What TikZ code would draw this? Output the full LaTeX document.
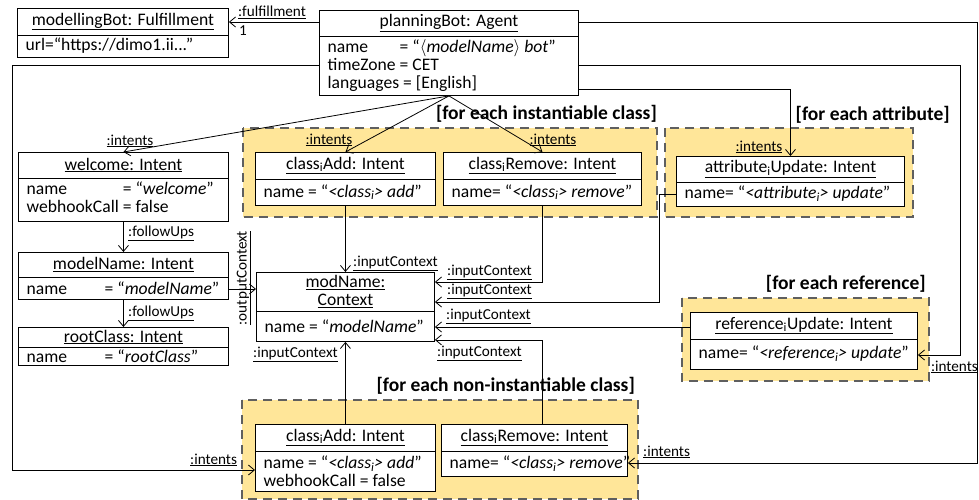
\documentclass[tikz,border=0pt]{standalone}
\usepackage{fontspec}
\setmainfont{Carlito}
\usetikzlibrary{arrows.meta,calc}
\definecolor{grpfill}{HTML}{FFE699}
\definecolor{grpline}{HTML}{5F5F5F}
\tikzset{
  objbox/.style={draw=black, line width=0.9pt, fill=white, inner sep=0pt, rectangle},
  grp/.style={draw=grpline, fill=grpfill, line width=2.6pt, dash pattern=on 9pt off 6pt},
  conn/.style={draw=black, line width=0.8pt, -{Straight Barb[length=6pt,width=10pt,line width=0.8pt]}},
  lbl/.style={inner sep=0pt, font=\fontsize{15.2}{15.2}\selectfont},
  grplbl/.style={inner sep=0pt, font=\fontsize{19.5}{19.5}\selectfont\bfseries},
  txt/.style={inner sep=0pt, font=\fontsize{17.6}{17.6}\selectfont},
}
% name, x, y, w, h, header height, header, attributes
\newcommand\umlobj[8]{%
  \node[objbox, anchor=north west, minimum width=#4pt, minimum height=#5pt] (#1) at (#2,#3) {};
  \draw[line width=0.9pt] ($(#1.north west)+(0,#6)$) -- ($(#1.north east)+(0,#6)$);
  \node[txt, align=center] at ($(#1.north)+(0,{#6/2})$) {#7};
  \node[txt, anchor=west, align=left] at ($(#1.north west)+(8.5,{(#5+#6)/2})$) {#8};
}
\newcommand\sub[1]{\textsubscript{#1}}
\begin{document}
\begin{tikzpicture}[x=1pt,y=-1pt]
\useasboundingbox (0,0) rectangle (979,500);

% groups
\draw[grp] (243,128) rectangle (657,217);
\draw[grp] (665,128) rectangle (913,217);
\draw[grp] (682,298) rectangle (929,381);
\draw[grp] (242,400) rectangle (638,499);

\node[grplbl, anchor=east] (l1) at (657,114) {[for each instantiable class]};
\node[grplbl, anchor=east] (l2) at (950,115) {[for each attribute]};
\node[grplbl, anchor=east] (l3) at (926,284) {[for each reference]};
\node[grplbl, anchor=east] (l4) at (635,386) {[for each non-instantiable class]};

% objects
\umlobj{fulf}{17}{8}{211}{49}{27}{\underline{modellingBot: Fulfillment}}{url=“https://dimo1.ii...”}
\umlobj{agent}{319}{10}{259}{85}{26}{\underline{planningBot: Agent}}{\makebox[72pt][l]{name}= “\textit{$\langle$modelName$\rangle$ bot}”\\\makebox[72pt][l]{timeZone}= CET\\languages = [English]}
\umlobj{welcome}{18}{152}{210}{69}{26}{\underline{welcome: Intent}}{\begin{tabular}{@{}l@{ }l@{}}name & = “\textit{welcome}”\\ webhookCall & = false\end{tabular}}
\umlobj{mname}{18}{252}{210}{46.5}{25}{\underline{modelName: Intent}}{\makebox[78pt][l]{name}= “\textit{modelName}”}
\umlobj{root}{18}{327}{210}{38}{20}{\underline{rootClass: Intent}}{\makebox[78pt][l]{name}= “\textit{rootClass}”}
\umlobj{ctx}{256}{272}{178}{69}{39}{\underline{modName:}\\\underline{Context}}{name = “\textit{modelName}”}
\umlobj{iadd}{255}{152}{180}{53}{27}{\underline{class\sub{i}Add: Intent}}{name = “\textit{<class\sub{i}> add}”}
\umlobj{irem}{443}{152}{198}{53}{27}{\underline{class\sub{i}Remove: Intent}}{name= “\textit{<class\sub{i}> remove}”}
\umlobj{attr}{676}{156}{228}{50}{26}{\underline{attribute\sub{i}Update: Intent}}{name= “\textit{<attribute\sub{i}> update}”}
\umlobj{ref}{690}{312}{227}{57}{27}{\underline{reference\sub{i}Update: Intent}}{name= “\textit{<reference\sub{i}> update}”}
\umlobj{nadd}{255}{424}{180}{67}{27}{\underline{class\sub{i}Add: Intent}}{name = “\textit{<class\sub{i}> add}”\\webhookCall = false}
\umlobj{nrem}{441}{424}{186}{52}{27}{\underline{class\sub{i}Remove: Intent}}{name= “\textit{<class\sub{i}> remove}”}

% connectors
\draw[conn] ($(agent.north west)+(0,12)$) -- ($(fulf.north east)+(0,14)$);
\draw[conn] ($(agent.north east)+(0,12)$) -- (977,22) -- (977,463) -- ($(nrem.north east)+(0,39)$);
\draw[conn] ($(agent.north east)+(0,55)$) -- (960,65) -- (960,355) -- ($(ref.north east)+(0,43)$);
\draw[conn] ($(agent.north east)+(0,79)$) -| (attr.north);
\draw[conn] ($(agent.north west)+(0,55)$) -- (12,65) -- (12,470) -- ($(nadd.north west)+(0,46)$);
\draw[conn] (agent.south) -- (welcome.north);
\draw[conn] (agent.south) -- (iadd.north);
\draw[conn] (agent.south) -- (irem.north);
\draw[conn] (welcome.south) -- (mname.north);
\draw[conn] (mname.south) -- (root.north);
\draw[conn] ($(mname.north east)+(0,37)$) -- ($(ctx.north west)+(0,17)$);
\draw[conn] (iadd.south) -- (ctx.north);
\draw[conn] (irem.south) |- ($(ctx.north east)+(0,10)$);
\draw[conn] ($(attr.north west)+(0,38)$) -- (659,194) -- (659,302) -- ($(ctx.north east)+(0,30)$);
\draw[conn] ($(ref.north west)+(0,15)$) -- ($(ctx.north east)+(0,55)$);
\draw[conn] ($(nrem.north west)+(101,0)$) |- ($(ctx.south east)+(0,-2)$);
\draw[conn] (nadd.north) -- (ctx.south);

% labels
\node[lbl] (t1) at (272,12) {\underline{:fulfillment}};
\node[lbl] (t2) at (243,31) {1};
\node[lbl] (t3) at (130,141) {\underline{:intents}};
\node[lbl] (t4) at (329,140) {\underline{:intents}};
\node[lbl] (t5) at (553,140) {\underline{:intents}};
\node[lbl] (t6) at (759,147) {\underline{:intents}};
\node[lbl, anchor=east] (t7) at (978,367) {\underline{:intents}};
\node[lbl, anchor=west] (t8) at (643,452) {\underline{:intents}};
\node[lbl, anchor=west] (t9) at (190,460) {\underline{:intents}};
\node[lbl, anchor=west] (t10) at (128,233) {\underline{:followUps}};
\node[lbl, anchor=west] (t11) at (128,313) {\underline{:followUps}};
\node[lbl, rotate=90] (t12) at (244,278) {\underline{:outputContext}};
\node[lbl, anchor=west] (t13) at (353,263) {\underline{:inputContext}};
\node[lbl, anchor=west] (t14) at (447,272) {\underline{:inputContext}};
\node[lbl, anchor=west] (t15) at (447,291) {\underline{:inputContext}};
\node[lbl, anchor=west] (t16) at (446,316) {\underline{:inputContext}};
\node[lbl, anchor=west] (t17) at (437,353) {\underline{:inputContext}};
\node[lbl, anchor=west] (t18) at (253,354) {\underline{:inputContext}};
\end{tikzpicture}
\end{document}
